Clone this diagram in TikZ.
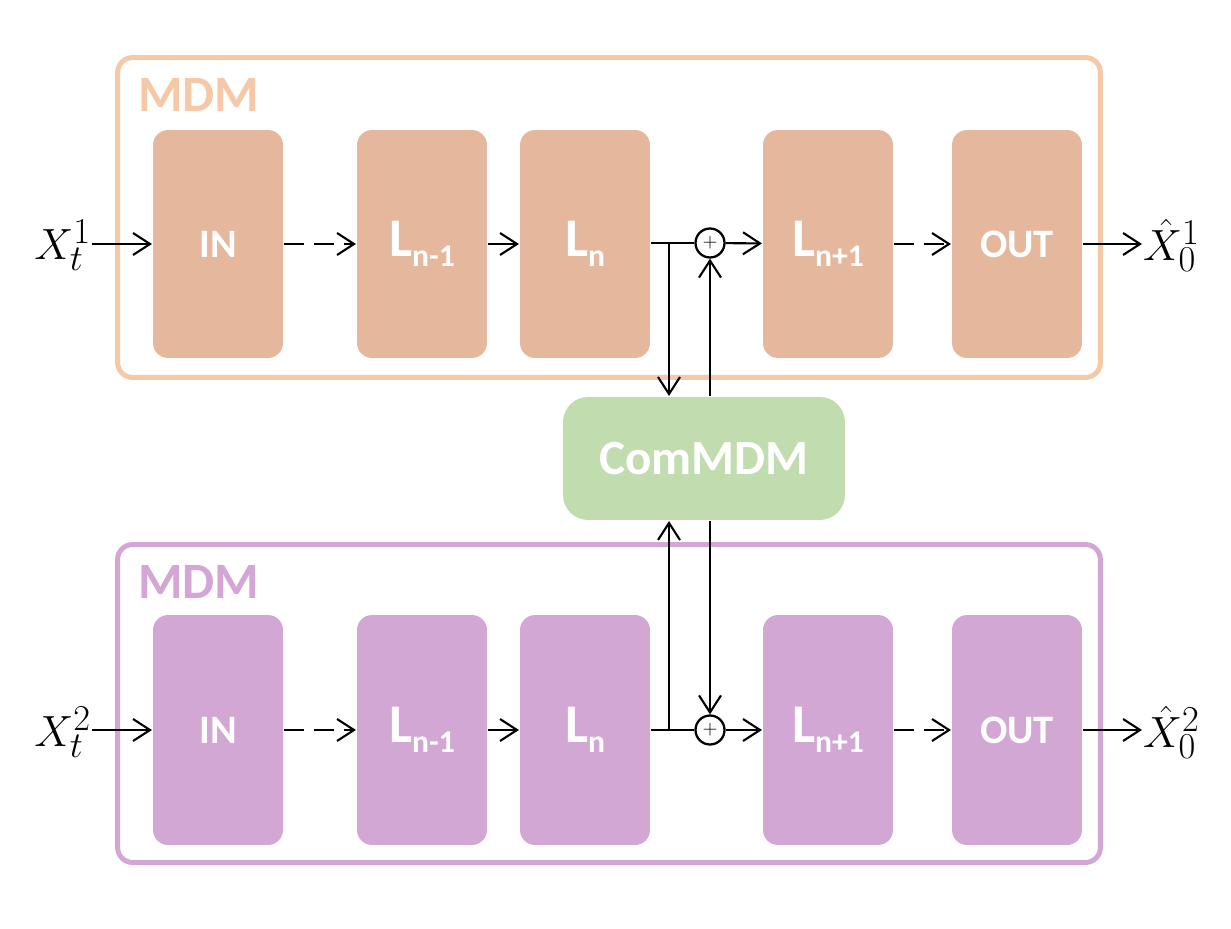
\documentclass[tikz,border=0pt]{standalone}
\usepackage{fontspec}
\setmainfont{Carlito}
\usetikzlibrary{arrows.meta}
\definecolor{frameone}{HTML}{F5C8A8}
\definecolor{frametwo}{HTML}{D4A6D5}
\definecolor{blkone}{HTML}{E5B89D}
\definecolor{blktwo}{HTML}{D3A7D4}
\definecolor{comgreen}{HTML}{C1DCAE}
\newcommand{\layer}[1]{L\raisebox{-5.5pt}{\fontsize{18}{18}\selectfont #1}}
\tikzset{
	mdmframe/.style={rounded corners=0.3cm,line width=0.1cm,minimum width=19.66cm,minimum height=6.4cm,inner sep=0pt},
	mdmtitle/.style={anchor=west,inner sep=0pt,font=\bfseries\fontsize{29}{29}\selectfont},
	blk/.style={rounded corners=0.3cm,minimum width=2.6cm,minimum height=4.56cm,inner sep=0pt,text=white,font=\bfseries\fontsize{23}{23}\selectfont},
	lyr/.style={blk,font=\bfseries\fontsize{31}{31}\selectfont},
	sumc/.style={circle,draw,line width=1.3pt,minimum size=0.58cm,inner sep=0pt,font=\fontsize{11}{11}\selectfont},
	dsh/.style={dash pattern=on 0.4cm off 0.2cm},
	lbl/.style={inner sep=0pt,font=\fontsize{29}{29}\selectfont}
}
\begin{document}
\begin{tikzpicture}[x=0.02cm,y=-0.02cm,line width=1.2pt,>={Straight Barb[length=0.34cm,width=0.44cm]}]
	\path[use as bounding box] (0,0) rectangle (1231,929);
	\node[mdmframe,draw=frameone] (mdm1) at (609,217.5) {};
	\node[mdmframe,draw=frametwo,minimum height=6.36cm] (mdm2) at (609,703.5) {};
	\node[mdmtitle,text=frameone] (tit1) at (137,95) {MDM};
	\node[mdmtitle,text=frametwo] (tit2) at (137,582) {MDM};
	\node[blk,fill=blkone] (in1) at (218,244) {IN};
	\node[lyr,fill=blkone] (lm1) at (422,244) {\layer{n-1}};
	\node[lyr,fill=blkone] (ln1) at (585,244) {\layer{n}};
	\node[lyr,fill=blkone] (lp1) at (828,244) {\layer{n+1}};
	\node[blk,fill=blkone] (out1) at (1017,244) {OUT};
	\node[blk,fill=blktwo,minimum height=4.6cm] (in2) at (218,730) {IN};
	\node[lyr,fill=blktwo,minimum height=4.6cm] (lm2) at (422,730) {\layer{n-1}};
	\node[lyr,fill=blktwo,minimum height=4.6cm] (ln2) at (585,730) {\layer{n}};
	\node[lyr,fill=blktwo,minimum height=4.6cm] (lp2) at (828,730) {\layer{n+1}};
	\node[blk,fill=blktwo,minimum height=4.6cm] (out2) at (1017,730) {OUT};
	\node[rounded corners=0.5cm,fill=comgreen,minimum width=5.64cm,minimum height=2.46cm,text=white,font=\bfseries\fontsize{28}{28}\selectfont] (com) at (704,458.5) {ComMDM};
	\node[sumc] (plus1) at (710,243) {$+$};
	\node[sumc] (plus2) at (710,730) {$+$};
	\coordinate (br1) at (669,243);
	\coordinate (br2) at (669,730);
	\node[lbl,anchor=east] (xt1) at (92,245) {$X_t^1$};
	\node[lbl,anchor=east] (xt2) at (92,732) {$X_t^2$};
	\node[lbl,anchor=west] (xo1) at (1142,245) {$\hat{X}_0^1$};
	\node[lbl,anchor=west] (xo2) at (1142,732) {$\hat{X}_0^2$};
	\draw[->] (xt1.east |- in1) -- (in1);
	\draw[->,dsh] (in1) -- (lm1);
	\draw[->] (lm1) -- (ln1);
	\draw (ln1.east |- plus1) -- (plus1);
	\draw[->] (plus1) -- (lp1);
	\draw[->,dsh] (lp1) -- (out1);
	\draw[->] (out1) -- (xo1.west |- out1);
	\draw[->] (br1) -- (br1 |- com.north);
	\draw[->] (plus1 |- com.north) -- (plus1);
	\draw[->] (xt2.east |- in2) -- (in2);
	\draw[->,dsh] (in2) -- (lm2);
	\draw[->] (lm2) -- (ln2);
	\draw (ln2.east |- plus2) -- (plus2);
	\draw[->] (plus2) -- (lp2);
	\draw[->,dsh] (lp2) -- (out2);
	\draw[->] (out2) -- (xo2.west |- out2);
	\draw[->] (br2) -- (br2 |- com.south);
	\draw[->] (plus2 |- com.south) -- (plus2);
\end{tikzpicture}
\end{document}
